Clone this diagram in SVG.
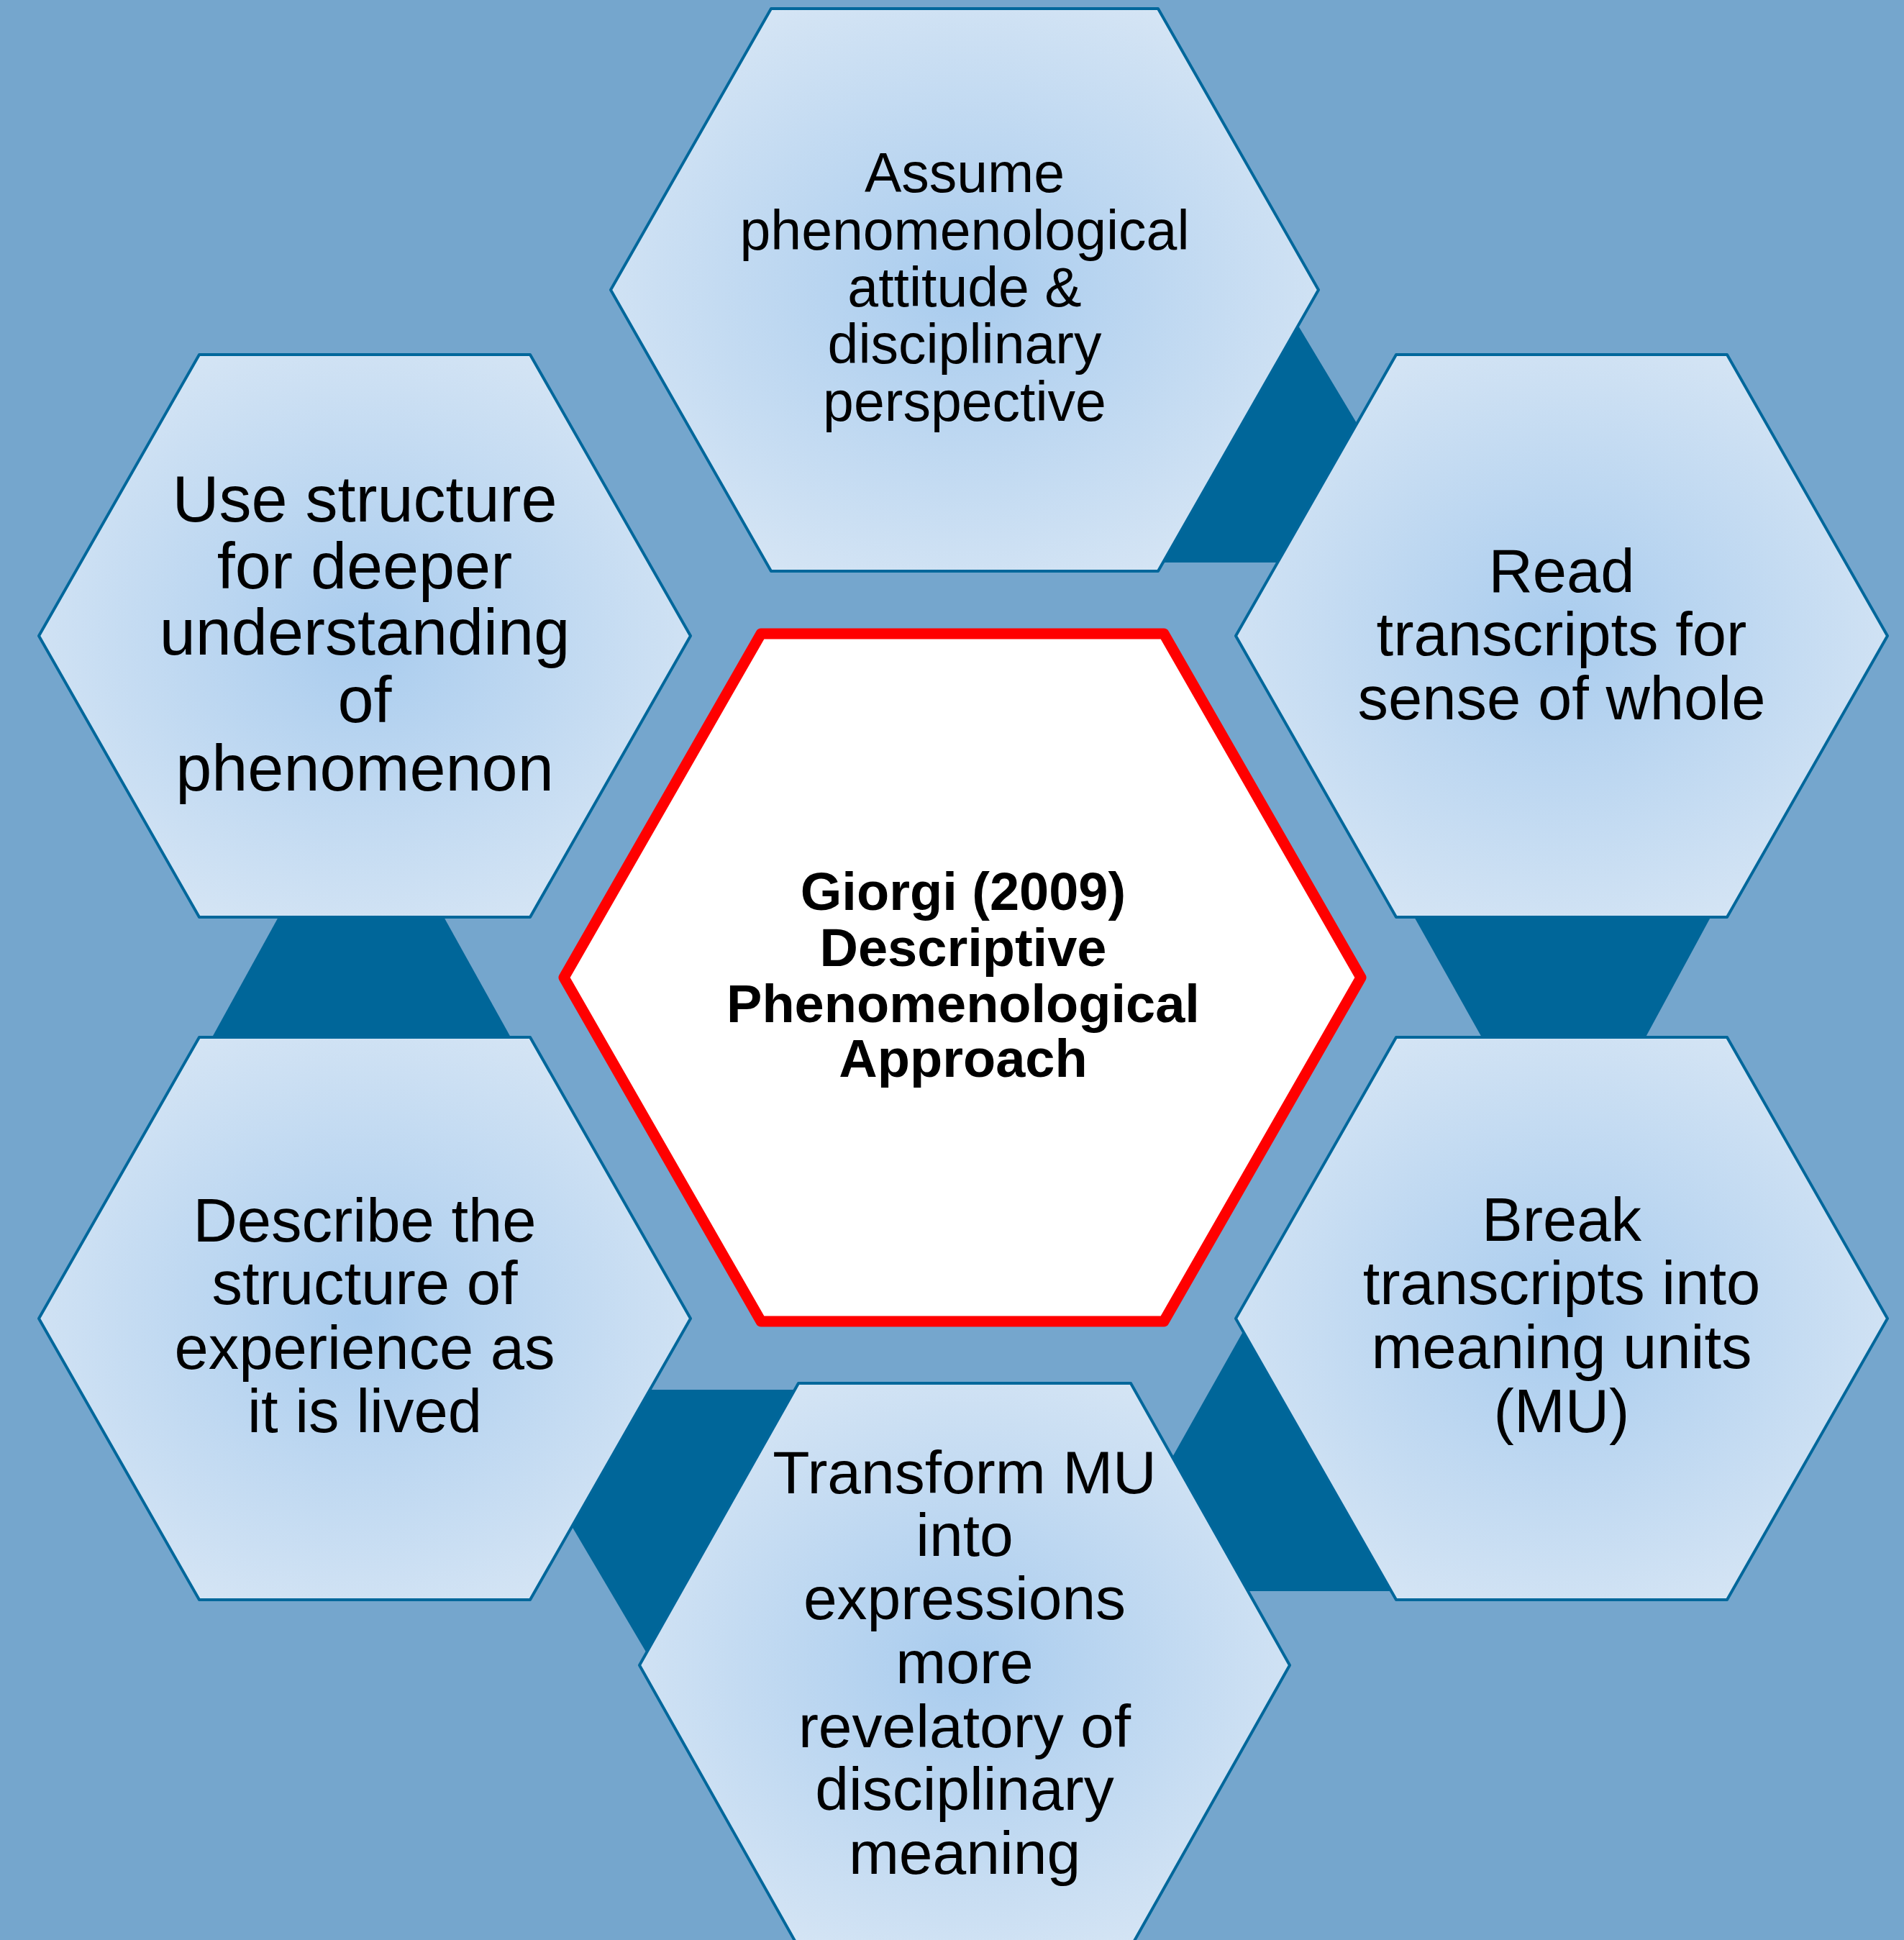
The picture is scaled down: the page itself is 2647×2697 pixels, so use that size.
<svg xmlns="http://www.w3.org/2000/svg" width="2647" height="2697" viewBox="0 0 2647 2697">
  <defs>
    <radialGradient id="hexFill" cx="0.5" cy="0.5" r="0.62">
      <stop offset="0" stop-color="#A9CCEE"/>
      <stop offset="1" stop-color="#D9E7F5"/>
    </radialGradient>
    <style>
      .hex { fill: url(#hexFill); stroke: #00679B; stroke-width: 4; stroke-linejoin: round; }
      .conn { fill: #006699; stroke: none; }
      .lbl { font-family: "Liberation Sans", Arial, sans-serif; fill: #000000; text-anchor: middle; }
      .center { fill: #FFFFFF; stroke: #FF0000; stroke-width: 15; stroke-linejoin: round; }
      .ctr { font-family: "Liberation Sans", Arial, sans-serif; font-weight: bold; fill: #000000; text-anchor: middle; font-size: 74px; }
    </style>
  </defs>
  <rect x="0" y="0" width="2647" height="2697" fill="#75A6CD"/>

  <g id="connectors">
    <polygon class="conn" points="1790,428 1901,613 1795,782 1600,782"/>
    <polygon class="conn" points="1955,1255 2389,1255 2278,1460 2070,1460"/>
    <polygon class="conn" points="1740,1830 1619,2045 1720,2212 1950,2212"/>
    <polygon class="conn" points="890,1932 1120,1932 906,2310 785,2105"/>
    <polygon class="conn" points="398,1255 606,1255 720,1460 285,1460"/>
  </g>

  <g id="node-top">
    <polygon class="hex" points="1072,12 1610,12 1833,403 1610,794 1072,794 849,403"/>
    <g class="lbl" font-size="77">
      <text x="1341" y="267">Assume</text>
      <text x="1341" y="347">phenomenological</text>
      <text x="1341" y="426">attitude &amp;</text>
      <text x="1341" y="505">disciplinary</text>
      <text x="1341" y="585">perspective</text>
    </g>
  </g>

  <g id="node-right-upper">
    <polygon class="hex" points="1941,493 2401,493 2624,884 2401,1275 1941,1275 1718,884"/>
    <g class="lbl" font-size="85">
      <text x="2171" y="823">Read</text>
      <text x="2171" y="911">transcripts for</text>
      <text x="2171" y="1000">sense of whole</text>
    </g>
  </g>

  <g id="node-right-lower">
    <polygon class="hex" points="1941,1442 2401,1442 2624,1833 2401,2224 1941,2224 1718,1833"/>
    <g class="lbl" font-size="85">
      <text x="2171" y="1725">Break</text>
      <text x="2171" y="1813">transcripts into</text>
      <text x="2171" y="1902">meaning units</text>
      <text x="2171" y="1991">(MU)</text>
    </g>
  </g>

  <g id="node-bottom">
    <polygon class="hex" points="1110,1923 1572,1923 1793,2315 1572,2707 1110,2707 889,2315"/>
    <g class="lbl" font-size="84">
      <text x="1341" y="2076">Transform MU</text>
      <text x="1341" y="2163">into</text>
      <text x="1341" y="2251">expressions</text>
      <text x="1341" y="2340">more</text>
      <text x="1341" y="2429">revelatory of</text>
      <text x="1341" y="2516">disciplinary</text>
      <text x="1341" y="2605">meaning</text>
    </g>
  </g>

  <g id="node-left-lower">
    <polygon class="hex" points="277,1442 737,1442 960,1833 737,2224 277,2224 54,1833"/>
    <g class="lbl" font-size="85">
      <text x="507" y="1726">Describe the</text>
      <text x="507" y="1813">structure of</text>
      <text x="507" y="1903">experience as</text>
      <text x="507" y="1991">it is lived</text>
    </g>
  </g>

  <g id="node-left-upper">
    <polygon class="hex" points="277,493 737,493 960,884 737,1275 277,1275 54,884"/>
    <g class="lbl" font-size="90">
      <text x="507" y="725">Use structure</text>
      <text x="507" y="818">for deeper</text>
      <text x="507" y="910">understanding</text>
      <text x="507" y="1004">of</text>
      <text x="507" y="1099">phenomenon</text>
    </g>
  </g>

  <g id="node-center">
    <polygon class="center" points="1058,881 1618,881 1892,1359 1618,1837 1058,1837 784,1359"/>
    <g class="ctr">
      <text x="1339" y="1265">Giorgi (2009)</text>
      <text x="1339" y="1343">Descriptive</text>
      <text x="1339" y="1421">Phenomenological</text>
      <text x="1339" y="1497">Approach</text>
    </g>
  </g>
</svg>
